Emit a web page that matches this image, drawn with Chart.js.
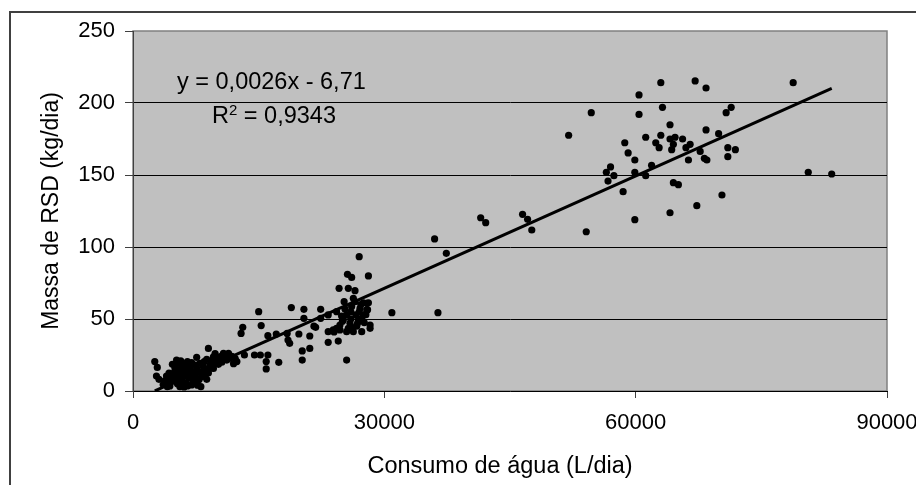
<!DOCTYPE html>
<html>
<head>
<meta charset="utf-8">
<script src="https://cdn.jsdelivr.net/npm/chart.js@4"></script>
<style>
html, body { margin:0; padding:0; background:#fff; overflow:hidden; }
#wrap { position:relative; width:916px; height:485px; }
#frame { position:absolute; left:9px; top:11px; width:1000px; height:1000px; border-top:2px solid #404040; border-left:2px solid #404040; }
#chart { position:absolute; left:0; top:0; }
</style>
</head>
<body>
<div id="wrap">
  <div id="frame"></div>
  <canvas id="chart" width="916" height="485"></canvas>
</div>
<script>
// ============================================================
//  DATA
// ============================================================
// consumo de agua (L/dia) and massa de RSD (kg/dia)
var consumo = [
  2600,2900,2800,3100,4000,4400,5200,5800,6600,7000,5600,7000,8100,8800,7600,9000,8400,8300,7400,6400,
  6000,5000,4800,5400,6200,7600,8000,9600,10000,9600,10400,10800,11400,11200,11500,12400,13300,4500,5000,5500,
  5900,6300,6700,6900,7200,7900,8600,9200,9400,10200,10600,11800,12000,8800,9800,6000,4700,5300,3600,7300,
  9000,10900,5700,6500,4200,8500,
  3800,4300,4900,5100,5600,5800,6200,6500,6800,7100,7500,7800,8200,8700,9300,9900,10300,11000,12200,6100,
  4100,7700,9700,10700,
  12900,13100,15000,15300,14500,15200,16100,15900,15900,16100,17400,17100,18400,18500,18700,18900,19800,20200,20200,20400,
  20400,21100,21100,21800,22400,22400,23300,23300,23900,24500,24600,25500,25600,26100,25700,26500,27000,28100,25200,26100,
  26500,27100,27900,27900,27500,28300,28300,27300,26300,25500,24700,25100,24700,25900,26900,25500,26600,27300,24300,23300,
  24300,26300,27500,28100,30900,36000,37400,36400,24000,25000,26200,26800,27000,27800,28000,26000,21600,
  25300,26000,26700,27600,24900,25700,27200,
  41500,42100,46500,47100,47600,52000,54700,54100,60400,60400,63000,63200,67100,68400,78800,70800,71400,64100,68400,69900,
  58700,61200,62400,62800,63000,64100,64700,64500,64300,65600,66000,66500,67700,68200,68500,66300,71000,71900,71000,59100,
  59900,61900,59900,56500,57000,57400,56700,61200,58500,64500,65100,70300,67300,64100,59900,80600,83400
];
var massa = [
  20.4,16.4,10.4,8.1,10.4,3.5,21.5,19.2,19.2,19.7,3.0,4.2,3.0,8.1,23.4,29.6,16.9,13.4,10.4,13.4,
  10.0,7.6,12.3,14.6,16.9,15.7,19.2,23.8,20.4,15.7,23.8,26.2,26.2,21.5,22.7,20.4,25.0,6.0,16.0,12.0,
  7.0,5.5,9.0,14.0,12.0,8.0,11.0,18.0,21.0,18.5,20.0,24.0,19.0,22.0,26.0,18.0,18.5,5.0,4.5,6.5,
  12.5,23.0,21.0,3.5,9.0,20.5,
  7.0,12.5,10.0,18.0,8.5,15.5,11.5,20.5,17.0,8.0,18.0,13.0,10.0,15.0,16.0,22.0,21.5,24.5,22.5,2.8,
  3.0,4.0,19.0,25.0,
  40.0,44.2,55.1,45.4,25.0,25.0,25.0,20.4,15.3,38.4,19.9,39.6,40.0,35.4,33.1,57.9,39.6,27.8,21.5,56.7,
  50.5,38.2,29.6,44.2,56.7,50.5,33.8,41.2,42.4,34.7,71.3,21.5,81.0,78.9,71.3,69.7,93.3,79.9,62.0,58.6,
  62.0,57.4,60.9,56.3,52.8,45.8,43.5,41.2,41.2,41.2,42.4,49.3,45.8,47.0,49.3,52.8,52.8,50.5,43.5,52.8,
  55.1,64.4,61.3,61.3,54.4,105.6,95.6,54.4,41.0,48.5,44.0,47.0,55.0,53.0,56.5,50.0,45.0,
  57.0,55.0,45.0,47.5,52.0,43.5,60.0,
  120.3,116.9,122.7,119.2,111.8,177.6,193.3,110.6,205.6,192.1,214.1,197.0,215.3,210.4,214.1,193.3,197.0,184.9,181.3,178.7,
  172.4,176.2,172.4,169.0,177.6,175.0,176.2,171.3,167.6,175.0,169.0,171.3,166.4,161.6,160.4,160.4,169.0,167.6,162.7,165.3,
  160.4,156.7,151.9,151.9,155.6,149.5,145.8,149.5,138.4,144.7,143.3,136.1,128.7,123.8,119.0,151.9,150.7
];

// linear trend line end points
var trendX = [2600, 83400];
var trendY = [0.05, 210.1];

var xTicks = [0, 30000, 60000, 90000];
var yTicks = [0, 50, 100, 150, 200, 250];

var eqText = 'y = 0,0026x - 6,71';
var r2Text = '0,9343';
var xTitle = 'Consumo de água (L/dia)';

// ============================================================
//  CHART
// ============================================================
var FONT = "'Liberation Sans', Arial, sans-serif";

var plotBg = {
  id: 'plotBg',
  beforeDraw: function(chart) {
    var a = chart.chartArea, c = chart.ctx;
    c.save();
    c.fillStyle = '#c0c0c0';
    c.fillRect(a.left, a.top, a.right - a.left, a.bottom - a.top);
    c.strokeStyle = '#808080';
    c.lineWidth = 1.5;
    c.strokeRect(a.left, a.top, a.right - a.left, a.bottom - a.top);
    c.restore();
  },
  afterDraw: function(chart) {
    var a = chart.chartArea, c = chart.ctx;
    c.save();
    c.fillStyle = '#000';
    c.textBaseline = 'alphabetic';
    c.textAlign = 'left';
    c.font = '23.5px ' + FONT;
    c.fillText(eqText, a.left + 44, a.top + 58);
    var rx = a.left + 79, ry = a.top + 92;
    c.fillText('R', rx, ry);
    rx += c.measureText('R').width;
    c.font = '15px ' + FONT;
    c.fillText('2', rx, ry - 8);
    rx += c.measureText('2').width;
    c.font = '23.5px ' + FONT;
    c.fillText(' = ' + r2Text, rx, ry);
    // x axis title
    c.textAlign = 'center';
    c.textBaseline = 'middle';
    c.fillText(xTitle, 500, 467);
    c.restore();
  }
};

var points = consumo.map(function(x, i) { return { x: x, y: massa[i] }; });
var trend = trendX.map(function(x, i) { return { x: x, y: trendY[i] }; });

new Chart(document.getElementById('chart'), {
  type: 'scatter',
  data: {
    datasets: [
      { label:'Dados', data:points, pointRadius:3.6, pointHoverRadius:3.6, backgroundColor:'#000', borderWidth:0 },
      { label:'Tendencia', type:'line', data:trend, showLine:true, borderColor:'#000', borderWidth:3, pointRadius:0, fill:false }
    ]
  },
  options: {
    responsive:false, animation:false, devicePixelRatio:1,
    layout: { padding: { left:0, top:31, right:29, bottom:0 } },
    plugins: { legend:{ display:false }, tooltip:{ enabled:false } },
    scales: {
      x: {
        type:'linear', min:0, max:90000,
        afterBuildTicks: function(s) { s.ticks = xTicks.map(function(v) { return { value:v }; }); },
        afterFit: function(s) { s.height = 94; s.paddingLeft = 0; s.paddingRight = 0; },
        ticks: { color:'#000', font:{ family:FONT, size:22 }, padding:12, maxRotation:0, callback:function(v) { return String(v); } },
        grid: { drawOnChartArea:false, drawTicks:true, tickLength:7, tickColor:'#404040' },
        border: { display:true, color:'#000', width:1 },
        title: { display:false }
      },
      y: {
        type:'linear', min:0, max:250,
        afterBuildTicks: function(s) { s.ticks = yTicks.map(function(v) { return { value:v }; }); },
        afterFit: function(s) { s.width = 133; s.paddingTop = 0; s.paddingBottom = 0; },
        ticks: { color:'#000', font:{ family:FONT, size:22 }, padding:10 },
        grid: {
          drawTicks:true, tickLength:8, tickColor:'#404040', lineWidth:1,
          color: function(ctx) { return (ctx.tick && (ctx.tick.value === 250 || ctx.tick.value === 0)) ? 'rgba(0,0,0,0)' : '#000'; }
        },
        border: { display:true, color:'#404040', width:1 },
        title: { display:true, text:'Massa de RSD (kg/dia)', color:'#000', font:{ family:FONT, size:23 }, padding:{ top:38, bottom:0 } }
      }
    }
  },
  plugins: [plotBg]
});
</script>
</body>
</html>
